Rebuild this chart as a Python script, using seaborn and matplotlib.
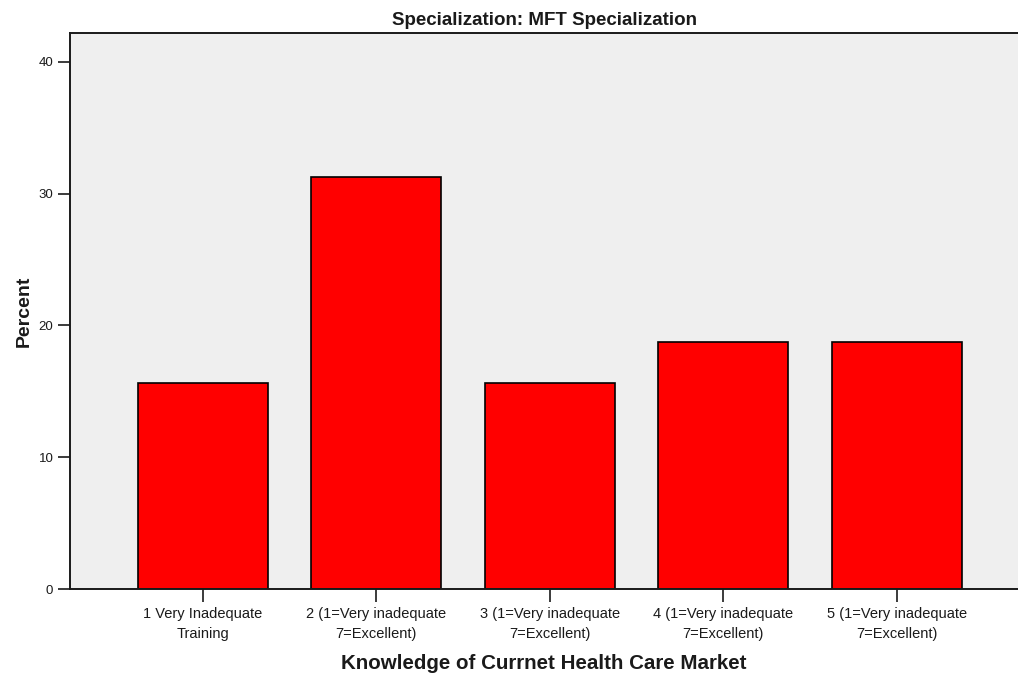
import matplotlib
matplotlib.use("Agg")
import matplotlib.pyplot as plt
import seaborn as sns
import pandas as pd

# -----------------------------------------------------
# DATA
# -----------------------------------------------------
categories = [
    "1 Very Inadequate\nTraining",
    "2 (1=Very inadequate\n7=Excellent)",
    "3 (1=Very inadequate\n7=Excellent)",
    "4 (1=Very inadequate\n7=Excellent)",
    "5 (1=Very inadequate\n7=Excellent)",
]
percent = [15.625, 31.25, 15.625, 18.75, 18.75]
y_ticks = [0, 10, 20, 30, 40]

df = pd.DataFrame({"category": categories, "percent": percent})

# -----------------------------------------------------
# STYLE
# -----------------------------------------------------
sns.set_style("ticks")
plt.rcParams["font.family"] = ["Liberation Sans", "DejaVu Sans"]
plt.rcParams["text.color"] = "#1a1a1a"
plt.rcParams["xtick.color"] = "#1a1a1a"
plt.rcParams["ytick.color"] = "#1a1a1a"
plt.rcParams["axes.labelcolor"] = "#1a1a1a"

fig = plt.figure(figsize=(10.18, 6.81), dpi=100)
ax = fig.add_axes([70 / 1018, 1 - 589 / 681, 1 - 70 / 1018, (589 - 33) / 681])
ax.set_facecolor("#efefef")

sns.barplot(
    data=df,
    x="category",
    y="percent",
    color="#ff0000",
    saturation=1,
    width=0.75,
    edgecolor="black",
    linewidth=1.2,
    ax=ax,
)

ax.set_xlim(-0.767, 4.70)
ax.set_ylim(0, 42.2)
ax.set_yticks(y_ticks)
ax.set_yticklabels([str(t) for t in y_ticks], fontsize=9.5)
ax.set_xticks(range(len(categories)))
ax.set_xticklabels(categories, fontsize=10.5, linespacing=1.55)
ax.tick_params(axis="x", length=9, width=1.2, pad=4)
ax.tick_params(axis="y", length=9, width=1.2, pad=3)

for side in ["left", "bottom", "top"]:
    ax.spines[side].set_linewidth(1.4)
    ax.spines[side].set_color("#1a1a1a")
ax.spines["right"].set_visible(False)

ax.set_title("Specialization: MFT Specialization", fontsize=13.5, fontweight="bold", pad=6)
ax.set_xlabel("Knowledge of Currnet Health Care Market", fontsize=14.8, fontweight="bold", labelpad=9)
ax.set_ylabel("Percent", fontsize=14, fontweight="bold", labelpad=4)

plt.savefig("out.png", dpi=100)
